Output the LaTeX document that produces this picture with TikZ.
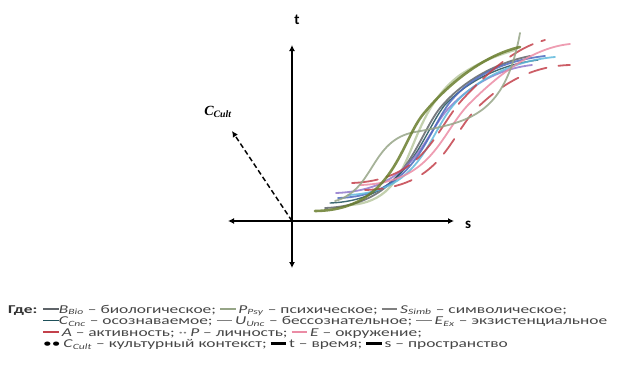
\documentclass[tikz,border=0pt]{standalone}
\usepackage{fontspec}
\setmainfont{Carlito}
\newfontfamily\serifbold{Liberation Serif}
\usepackage{xcolor}
\usetikzlibrary{arrows.meta, positioning}
\definecolor{oliveline}{RGB}{105,125,45}
\definecolor{sageline}{RGB}{150,165,135}
\definecolor{paleline}{RGB}{185,200,160}
\definecolor{darkgrayline}{RGB}{95,100,105}
\definecolor{blueline}{RGB}{75,105,190}
\definecolor{cyanline}{RGB}{95,185,220}
\definecolor{purpleline}{RGB}{145,120,205}
\definecolor{redline}{RGB}{195,65,75}
\definecolor{pinkline}{RGB}{235,140,165}
\definecolor{tealline}{RGB}{30,80,90}
\definecolor{legendtext}{RGB}{70,70,70}
\newcommand{\sym}[2]{\textit{#1}\textsubscript{\textit{#2}}}
\newcommand{\lmark}[1]{\textcolor{#1}{\rule[0.28em]{0.9em}{1.6pt}}}
\newcommand{\bmark}{\textcolor{black}{\rule[0.22em]{0.9em}{2.8pt}}}
\newcommand{\wide}[1]{\scalebox{1.45}[1]{#1}}

\begin{document}
\begin{tikzpicture}[x=1pt, y=-1pt,
        axis/.style={{Latex[length=6pt,width=6pt]}-{Latex[length=6pt,width=6pt]}, line width=1.6pt, black},
        cultarrow/.style={-{Latex[length=6pt,width=6pt]}, line width=1.5pt, dashed, dash pattern=on 5pt off 3pt},
        curve/.style={line width=1.8pt, line cap=round, opacity=0.85},
        axislabel/.style={font=\bfseries\fontsize{15}{15}\selectfont, inner sep=0pt},
        legendrow/.style={anchor=base west, inner sep=0pt, font=\fontsize{12}{12}\selectfont, text=legendtext}
    ]
        \useasboundingbox (0,0) rectangle (639,372);
        % axes
        \coordinate (O) at (292,221);
        \coordinate (tTop) at (292,45);
        \coordinate (tBottom) at (292,268);
        \coordinate (sLeft) at (228,221);
        \coordinate (sRight) at (454,221);
        \coordinate (cultEnd) at (232,131);
        \draw[axis] (tBottom) -- (tTop);
        \draw[axis] (sLeft) -- (sRight);
        \draw[cultarrow] (O) -- (cultEnd);
        \node[axislabel] (tLabel) at (297,20) {t};
        \node[axislabel] (sLabel) at (468,225) {s};
        \node[inner sep=0pt, font=\fontsize{14}{14}\selectfont] (cultLabel) at (218,112) {{\serifbold\bfseries\itshape C}\textsubscript{\serifbold\bfseries\itshape Cult}};

        % curves
        \draw[curve, paleline, line width=2.2pt] (350,205) .. controls (420,200) and (400,120) .. (460,75) .. controls (480,62) and (495,56) .. (515,50);
        \draw[curve, darkgrayline] (325,208) .. controls (405,205) and (415,140) .. (440,108) .. controls (465,78) and (500,62) .. (530,56);
        \draw[curve, tealline, line width=1.4pt] (330,203) .. controls (408,200) and (420,138) .. (444,106) .. controls (470,78) and (505,64) .. (538,60);
        \draw[curve, purpleline] (336,193) .. controls (412,190) and (422,140) .. (447,110) .. controls (475,80) and (505,68) .. (532,65);
        \draw[curve, blueline] (338,198) .. controls (415,196) and (425,135) .. (450,102) .. controls (475,72) and (510,60) .. (545,56);
        \draw[curve, cyanline] (348,195) .. controls (425,192) and (428,130) .. (458,100) .. controls (483,75) and (520,60) .. (555,57);
        \draw[curve, pinkline] (360,185) .. controls (432,183) and (440,135) .. (468,105) .. controls (495,78) and (530,48) .. (570,44);
        \draw[curve, redline, dash pattern=on 26pt off 9pt] (352,183) .. controls (425,180) and (435,130) .. (462,100) .. controls (488,72) and (515,48) .. (545,40);
        \draw[curve, redline, dash pattern=on 18pt off 12pt] (365,190) .. controls (440,188) and (448,140) .. (475,110) .. controls (500,85) and (530,66) .. (570,65);
        \draw[curve, sageline] (335,201) .. controls (375,190) and (370,140) .. (415,132) .. controls (470,122) and (505,115) .. (520,33);
        \draw[curve, oliveline, line width=2.6pt] (315,211) .. controls (395,210) and (400,140) .. (425,112) .. controls (450,82) and (485,55) .. (520,47);

        % legend
        \node[legendrow, text=black!80] (where) at (8,313) {\wide{\bfseries Где:}};
        \node[legendrow] (row1) at (43,313) {\wide{\lmark{darkgrayline}\sym{B}{Bio} – биологическое; \lmark{sageline}\,\sym{P}{Psy} – психическое; \lmark{gray}\,\sym{S}{Simb} – символическое;}};
        \node[legendrow] (row2) at (43,324.5) {\wide{\lmark{tealline}\sym{C}{Cnc} – осознаваемое; \lmark{gray}\,\sym{U}{Unc} – бессознательное; \lmark{gray}\,\sym{E}{Ex} – экзистенциальное}};
        \node[legendrow] (row3) at (43,336) {\wide{\lmark{redline}\,\textit{A} – активность; {\color{gray}··}\,\textit{P} – личность; \lmark{pinkline}\,\textit{E} – окружение;}};
        \node[legendrow] (row4) at (43,347.5) {\wide{\textcolor{black}{••}\,\sym{C}{Cult} – культурный контекст; \bmark\,t – время; \bmark\,s – пространство}};
\end{tikzpicture}
\end{document}
